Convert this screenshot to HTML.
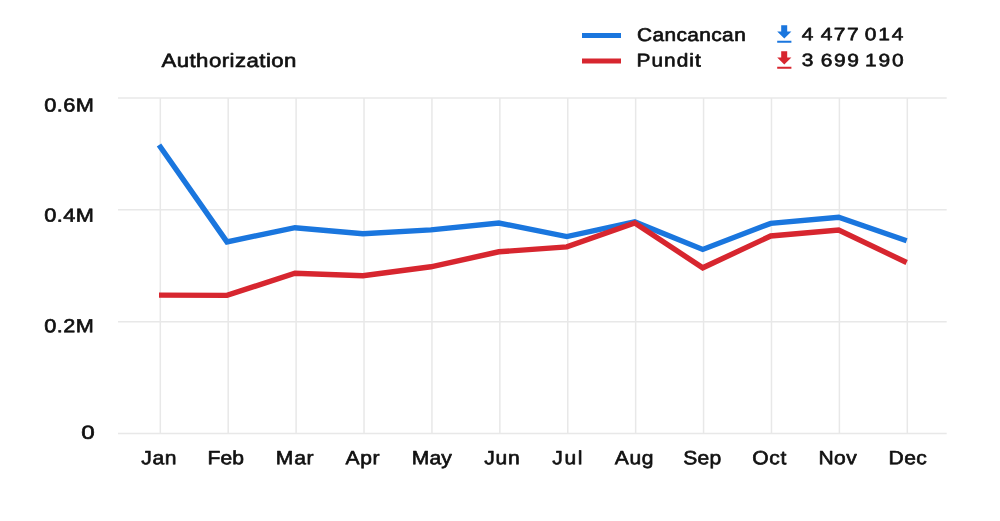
<!DOCTYPE html>
<html lang="en">
<head>
<meta charset="utf-8">
<title>Authorization</title>
<style>
html,body{margin:0;padding:0;background:#ffffff;}
body{width:1000px;height:521px;overflow:hidden;}
svg{display:block;}
text{font-family:"Liberation Sans",sans-serif;fill:#111111;stroke:#111111;stroke-width:0.65px;stroke-linejoin:round;text-rendering:geometricPrecision;}
</style>
</head>
<body>
<svg width="1000" height="521" viewBox="0 0 1000 521">
<rect width="1000" height="521" fill="#ffffff"/>

<g stroke="#e8e8e8" stroke-width="1.5" fill="none">
<line x1="118.0" y1="97.95" x2="946.7" y2="97.95"/>
<line x1="118.0" y1="209.85" x2="946.7" y2="209.85"/>
<line x1="118.0" y1="321.75" x2="946.7" y2="321.75"/>
<line x1="118.0" y1="433.6" x2="946.7" y2="433.6"/>
<line x1="160.30" y1="97.95" x2="160.30" y2="433.6"/>
<line x1="228.21" y1="97.95" x2="228.21" y2="433.6"/>
<line x1="296.12" y1="97.95" x2="296.12" y2="433.6"/>
<line x1="364.03" y1="97.95" x2="364.03" y2="433.6"/>
<line x1="431.94" y1="97.95" x2="431.94" y2="433.6"/>
<line x1="499.85" y1="97.95" x2="499.85" y2="433.6"/>
<line x1="567.75" y1="97.95" x2="567.75" y2="433.6"/>
<line x1="635.66" y1="97.95" x2="635.66" y2="433.6"/>
<line x1="703.57" y1="97.95" x2="703.57" y2="433.6"/>
<line x1="771.48" y1="97.95" x2="771.48" y2="433.6"/>
<line x1="839.39" y1="97.95" x2="839.39" y2="433.6"/>
<line x1="907.30" y1="97.95" x2="907.30" y2="433.6"/>
</g>
<polyline points="159.00,145.00 226.97,241.90 294.94,227.70 362.90,233.70 430.87,229.90 498.84,223.00 566.81,236.60 634.78,221.90 702.74,249.40 770.71,223.40 838.68,217.20 906.65,240.80" fill="none" stroke="#1a76de" stroke-width="5.4" stroke-linejoin="miter" stroke-linecap="butt"/>
<polyline points="159.00,295.10 226.97,295.40 294.94,273.20 362.90,275.80 430.87,266.80 498.84,251.80 566.81,246.90 634.78,223.00 702.74,267.80 770.71,236.00 838.68,230.00 906.65,262.50" fill="none" stroke="#d7262f" stroke-width="5.4" stroke-linejoin="miter" stroke-linecap="butt"/>
<rect x="582" y="33" width="39" height="5" fill="#1a76de"/>
<rect x="582" y="58.5" width="39" height="5" fill="#d7262f"/>
<path d="M781.2 25.20H787.2V31.55H791.4L784.3 38.50L777.2 31.55H781.2ZM777.2 40.70H791.4V42.65H777.2Z" fill="#1a76de"/>
<path d="M781.2 51.20H787.2V57.55H791.4L784.3 64.50L777.2 57.55H781.2ZM777.2 66.70H791.4V68.65H777.2Z" fill="#d7262f"/>
<text id="mJan" transform="translate(141.29,464.35) scale(1.1000,1) rotate(0.05)" font-size="19.15" letter-spacing="0.519">Jan</text>
<text id="mFeb" transform="translate(207.58,464.35) scale(1.1000,1) rotate(0.05)" font-size="19.15" letter-spacing="0.023">Feb</text>
<text id="mMar" transform="translate(275.87,464.35) scale(1.1000,1) rotate(0.05)" font-size="19.15" letter-spacing="0.654">Mar</text>
<text id="mApr" transform="translate(345.41,464.35) scale(1.1000,1) rotate(0.05)" font-size="19.15" letter-spacing="0.617">Apr</text>
<text id="mMay" transform="translate(411.76,464.35) scale(1.1000,1) rotate(0.05)" font-size="19.15" letter-spacing="0.082">May</text>
<text id="mJun" transform="translate(484.16,464.35) scale(1.1000,1) rotate(0.05)" font-size="19.15" letter-spacing="0.703">Jun</text>
<text id="mJul" transform="translate(552.35,464.35) scale(1.1000,1) rotate(0.05)" font-size="19.15" letter-spacing="1.418">Jul</text>
<text id="mAug" transform="translate(614.68,464.35) scale(1.1000,1) rotate(0.05)" font-size="19.15" letter-spacing="0.624">Aug</text>
<text id="mSep" transform="translate(683.17,464.35) scale(1.1000,1) rotate(0.05)" font-size="19.15" letter-spacing="0.288">Sep</text>
<text id="mOct" transform="translate(752.34,464.35) scale(1.1000,1) rotate(0.05)" font-size="19.15" letter-spacing="0.594">Oct</text>
<text id="mNov" transform="translate(818.58,464.35) scale(1.1000,1) rotate(0.05)" font-size="19.15" letter-spacing="0.291">Nov</text>
<text id="mDec" transform="translate(888.56,464.35) scale(1.1000,1) rotate(0.05)" font-size="19.15" letter-spacing="0.352">Dec</text>
<text id="y6" transform="translate(44.24,111.40) scale(1.1489,1) rotate(0.05)" font-size="18.95" letter-spacing="0.392">0.6M</text>
<text id="y4" transform="translate(44.24,221.62) scale(1.1488,1) rotate(0.05)" font-size="18.95" letter-spacing="0.392">0.4M</text>
<text id="y2" transform="translate(44.30,332.15) scale(1.1446,1) rotate(0.05)" font-size="18.95" letter-spacing="0.393">0.2M</text>
<text id="y0" transform="translate(81.26,438.80) scale(1.2757,1) rotate(0.05)" font-size="18.95" letter-spacing="0.000">0</text>
<text id="title" transform="translate(161.43,66.95) scale(1.1598,1) rotate(0.05)" font-size="19.15" letter-spacing="0.388">Authorization</text>
<text id="l1" transform="translate(636.95,41.00) scale(1.1300,1) rotate(0.05)" font-size="18.45" letter-spacing="0.372">Cancancan</text>
<text id="l2" transform="translate(636.54,66.40) scale(1.1300,1) rotate(0.05)" font-size="18.45" letter-spacing="0.908">Pundit</text>
<text id="n1" transform="translate(800.00,40.15) scale(1.17,1) rotate(0.05)" font-size="17.9"><tspan id="n1a" x="1.532" letter-spacing="0.000">4</tspan> <tspan id="n1b" x="17.771" letter-spacing="1.235">477</tspan> <tspan id="n1c" x="55.425" letter-spacing="1.580">014</tspan></text>
<text id="n2" transform="translate(800.00,66.12) scale(1.17,1) rotate(0.05)" font-size="17.9"><tspan id="n2a" x="1.448" letter-spacing="0.000">3</tspan> <tspan id="n2b" x="17.692" letter-spacing="1.369">699</tspan> <tspan id="n2c" x="55.483" letter-spacing="1.601">190</tspan></text>
</svg>
</body>
</html>
